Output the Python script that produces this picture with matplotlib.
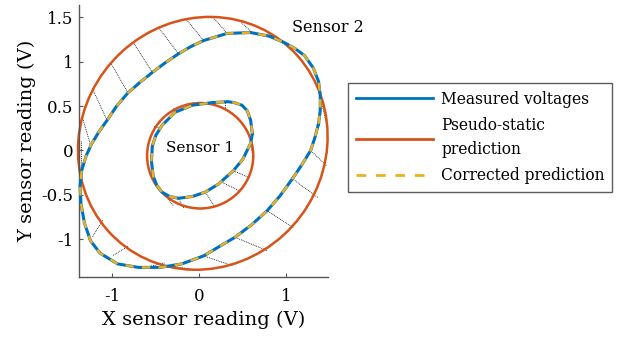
import matplotlib
matplotlib.use("Agg")
from matplotlib import pyplot as plt
from matplotlib.patches import Ellipse
from matplotlib.lines import Line2D

plt.rcParams['font.family'] = 'DejaVu Serif'

BLUE = '#0072BD'
RED = '#D95319'
YELLOW = '#EDB120'

# pseudo-static prediction (centre x, centre y, semi-axis a, semi-axis b, tilt deg)
s1_static = (0.01, -0.06, 0.61, 0.595, 0)
s2_static = (0.04, 0.08, 1.47, 1.39, 42)

# measured voltages (= corrected prediction)
s1_x = [0.61, 0.59, 0.55, 0.49, 0.40, 0.33, 0.15, -0.08, -0.28, -0.43, -0.50, -0.54,
        -0.55, -0.53, -0.49, -0.43, -0.34, -0.24, -0.08, 0.07, 0.22, 0.39, 0.50, 0.59]
s1_y = [0.19, 0.34, 0.45, 0.51, 0.54, 0.55, 0.54, 0.51, 0.43, 0.28, 0.17, 0.05,
        -0.12, -0.29, -0.39, -0.47, -0.52, -0.54, -0.52, -0.47, -0.38, -0.23, -0.10, 0.08]

s2_x = [1.37, 1.39, 1.39, 1.37, 1.31, 1.21, 1.10, 0.97, 0.80, 0.59, 0.32, 0.05, -0.10, -0.24,
        -0.39, -0.54, -0.68, -0.82, -0.95, -1.06, -1.16, -1.24, -1.30, -1.35, -1.37, -1.36,
        -1.32, -1.25, -1.14, -0.94, -0.70, -0.45, -0.20, 0.05, 0.22, 0.41, 0.60, 0.78,
        0.93, 1.07, 1.18, 1.28, 1.33]
s2_y = [0.30, 0.45, 0.62, 0.78, 0.93, 1.07, 1.15, 1.22, 1.29, 1.33, 1.32, 1.24, 1.17, 1.09,
        0.99, 0.88, 0.77, 0.65, 0.50, 0.34, 0.20, 0.07, -0.06, -0.22, -0.40, -0.60,
        -0.82, -1.02, -1.16, -1.28, -1.32, -1.32, -1.28, -1.19, -1.09, -0.98, -0.84, -0.68,
        -0.51, -0.32, -0.16, 0.00, 0.15]

# dotted links: static point -> measured point at the same instant
link_x0 = [-0.16, -0.47, -0.76, -1.02, -1.23, -1.34, -1.36, -1.11, -0.82, -0.40, -0.02,
           0.38, 0.78, 1.08, 1.36, 1.46, 1.48, 0.16, 0.45, 0.76,
           0.62, 0.56, 0.45, 0.18, -0.18, -0.30, -0.52, -0.30, 0.30]
link_y0 = [1.49, 1.39, 1.22, 0.99, 0.70, 0.36, 0.11, -0.79, -1.08, -1.27, -1.35,
           -1.30, -1.13, -0.87, -0.53, -0.17, 0.23, 1.50, 1.47, 1.35,
           -0.09, -0.30, -0.45, -0.64, -0.65, -0.62, 0.27, 0.47, 0.47]
link_x1 = [0.05, -0.24, -0.54, -0.82, -1.06, -1.25, -1.36, -1.23, -1.00, -0.62, -0.36,
           0.05, 0.41, 0.78, 1.07, 1.28, 1.39, 0.32, 0.61, 0.84,
           0.59, 0.39, 0.26, 0.07, -0.24, -0.39, -0.45, -0.25, 0.30]
link_y1 = [1.24, 1.09, 0.88, 0.65, 0.34, 0.06, -0.30, -0.98, -1.19, -1.32, -1.30,
           -1.19, -0.98, -0.68, -0.32, 0.00, 0.60, 1.32, 1.33, 1.29,
           0.08, -0.23, -0.36, -0.47, -0.54, -0.51, 0.25, 0.44, 0.55]

x_ticks = [-1, 0, 1]
x_ticklabels = ['-1', '0', '1']
y_ticks = [-1, -0.5, 0, 0.5, 1, 1.5]
y_ticklabels = ['-1', '-0.5', '0', '0.5', '1', '1.5']

fig = plt.figure(figsize=(6.19, 3.38), dpi=100)
ax = fig.add_axes([0.128, 0.180, 0.402, 0.805])

for i in range(len(link_x0)):
    ax.plot([link_x0[i], link_x1[i]], [link_y0[i], link_y1[i]],
            color='black', linestyle=(0, (1, 1.2)), linewidth=0.6, zorder=1)

for cx, cy, a, b, ang in [s1_static, s2_static]:
    ax.add_patch(Ellipse((cx, cy), 2 * a, 2 * b, angle=ang, fill=False,
                         edgecolor=RED, linewidth=1.8, zorder=2, clip_on=False))

for xs, ys in [(s1_x, s1_y), (s2_x, s2_y)]:
    xs = xs + xs[:1]
    ys = ys + ys[:1]
    ax.plot(xs, ys, color=BLUE, linewidth=2.2, zorder=3, clip_on=False)
    ax.plot(xs, ys, color=YELLOW, linewidth=1.7, linestyle=(0, (3.5, 3.5)), zorder=4,
            clip_on=False)

ax.text(0.01, 0.03, 'Sensor 1', ha='center', va='center', fontsize=11)
ax.text(1.48, 1.39, 'Sensor 2', ha='center', va='center', fontsize=11.5, clip_on=False)

ax.set_xlim(-1.38, 1.48)
ax.set_ylim(-1.43, 1.64)
ax.set_xticks(x_ticks)
ax.set_xticklabels(x_ticklabels)
ax.set_yticks(y_ticks)
ax.set_yticklabels(y_ticklabels)
ax.tick_params(direction='in', length=3, labelsize=12, color='#555555')
ax.tick_params(axis='x', pad=8)
ax.tick_params(axis='y', pad=4)
ax.spines['top'].set_visible(False)
ax.spines['right'].set_visible(False)
for s in ['left', 'bottom']:
    ax.spines[s].set_color('#555555')
    ax.spines[s].set_linewidth(1.0)
ax.set_xlabel('X sensor reading (V)', fontsize=14, labelpad=4)
ax.set_ylabel('Y sensor reading (V)', fontsize=14, labelpad=4)

handles = [Line2D([], [], color=BLUE, linewidth=2),
           Line2D([], [], color=RED, linewidth=2),
           Line2D([], [], color=YELLOW, linewidth=2, linestyle=(0, (3.5, 3.5)))]
labels = ['Measured voltages', 'Pseudo-static\nprediction', 'Corrected prediction']
leg = fig.legend(handles, labels, loc='upper left', bbox_to_anchor=(0.562, 0.754),
                 borderaxespad=0, fontsize=11.2, frameon=True, fancybox=False,
                 handlelength=5.0, handletextpad=0.5, borderpad=0.5, labelspacing=0.6)
leg.get_texts()[1].set_linespacing(1.5)
leg.get_frame().set_edgecolor('#333333')
leg.get_frame().set_linewidth(1.0)

fig.savefig('out.png', dpi=100)
